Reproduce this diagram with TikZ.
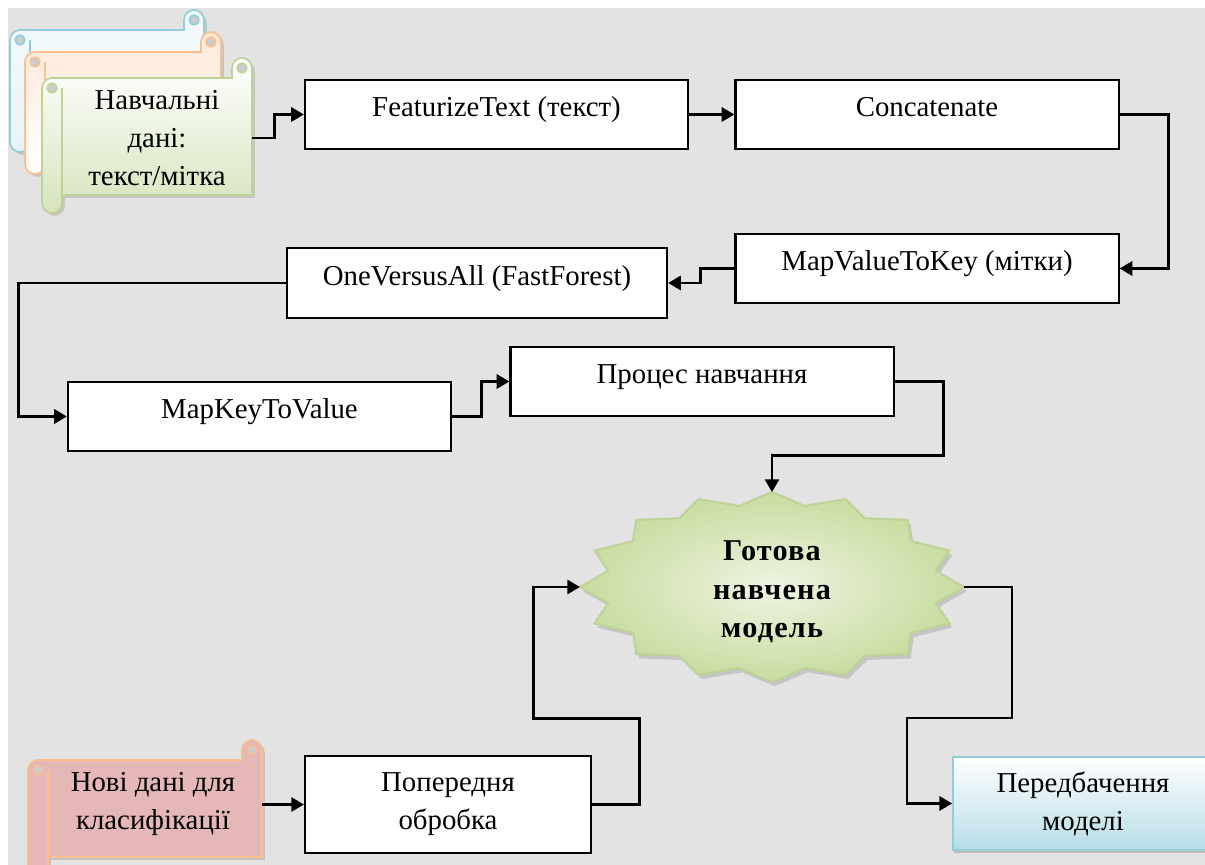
\documentclass[tikz,border=0pt]{standalone}
\usepackage{fontspec}
\setmainfont{Liberation Serif}
\newfontfamily\starfont[LetterSpace=4]{Liberation Serif}
\usetikzlibrary{arrows.meta,shadows}
\definecolor{paper}{RGB}{227,227,227}
\definecolor{scrollblue}{RGB}{146,205,220}
\definecolor{scrollorange}{RGB}{250,190,143}
\definecolor{scrollgreen}{RGB}{190,212,150}
\definecolor{greenfill}{RGB}{214,228,188}
\definecolor{pinkfill}{RGB}{229,183,182}
\definecolor{predfill}{RGB}{183,221,232}
\definecolor{starlight}{RGB}{238,244,226}
\definecolor{stardark}{RGB}{200,220,160}
\newcommand{\scrollshape}[6]{%
  \draw[draw=#5,line width=1.2pt,drop shadow={shadow xshift=2pt,shadow yshift=-2pt,opacity=.3},#6]
    ({#1+10},{#2+20}) -- ({#3-20},{#2+20}) -- ({#3-20},{#2+10}) arc[start angle=180,end angle=0,radius=0.25cm]
    -- (#3,{#4-18}) -- ({#1+20},{#4-18}) -- ({#1+20},{#4-10}) arc[start angle=0,end angle=-180,radius=0.25cm]
    -- (#1,{#2+30}) arc[start angle=180,end angle=90,radius=0.25cm] -- cycle;
  \draw[draw=#5,line width=1.2pt,fill=gray!40] ({#3-10},{#2+10}) circle[radius=0.12cm] ({#1+10},{#2+30}) circle[radius=0.12cm];
  \draw[draw=#5,line width=1.2pt] ({#1+20},{#2+30}) -- ({#1+20},{#4-18});
}

\begin{document}
\begin{tikzpicture}[x=0.025cm,y=-0.025cm,font=\fontsize{20.5}{27}\selectfont,
    box/.style={draw,fill=white,line width=1.5pt,minimum width=9.575cm,minimum height=1.725cm,text height=0.7em,text depth=0.4em},
    flow/.style={line width=2pt,-{Triangle[length=9pt,width=10pt]}}]
  \useasboundingbox (0,0) rectangle (1205,865);
  \fill[paper] (8,8) rectangle (1205,865);
  \scrollshape{10}{10}{204}{152}{scrollblue}{top color=scrollblue!10,bottom color=scrollblue!22}
  \scrollshape{25}{32}{221}{174}{scrollorange}{top color=scrollorange!35,bottom color=white}
  \scrollshape{42}{58}{252}{213}{scrollgreen}{top color=white,bottom color=greenfill}
  \scrollshape{28}{740}{262}{875}{scrollorange}{fill=pinkfill}
  \node[align=center,minimum width=4.75cm,minimum height=2.5cm] (traindata) at (157,138) {Навчальні\\дані:\\текст/мітка};
  \node[align=center,minimum width=5.425cm] (newdata) at (153,804.5) {Нові дані для\\класифікації};
  \node[box] (featurize) at (496.5,114.5) {FeaturizeText (текст)};
  \node[box] (concat) at (927,114.5) {Concatenate};
  \node[box] (mapvalue) at (927,268.5) {MapValueToKey (мітки)};
  \node[box,minimum width=9.5cm,minimum height=1.75cm] (ova) at (477,283) {OneVersusAll (FastForest)};
  \node[box] (mapkey) at (259.5,416.5) {MapKeyToValue};
  \node[box] (train) at (702,381.5) {Процес навчання};
  \node[box,align=center,minimum width=7.15cm,minimum height=2.425cm,text height=,text depth=] (prep) at (448,804.5) {Попередня\\обробка};
  \node[draw=scrollblue,line width=1.2pt,top color=white,bottom color=predfill,align=center,
    minimum width=6.5cm,minimum height=2.325cm,drop shadow={shadow xshift=1pt,shadow yshift=-2pt,opacity=.4}] (predict) at (1083,803.5) {Передбачення\\моделі};
  \draw[line width=1.5pt,draw=scrollgreen,inner color=starlight,outer color=stardark,
    drop shadow={shadow xshift=2pt,shadow yshift=-3pt,opacity=.3}] (964,587)
    \foreach[evaluate={1-0.13*mod(\i,2)} as \r] \i in {1,...,31} { -- ({772+\r*192*cos(\i*11.25)},{587-\r*95*sin(\i*11.25)}) } -- cycle;
  \node[align=center,font=\starfont\bfseries\fontsize{21.5}{27.5}\selectfont] (model) at (772,592) {Готова\\навчена\\модель};
  \coordinate (startop) at (772,492);
  \coordinate (starleft) at (580,587);
  \coordinate (starright) at (964,587);
  \draw[flow] (traindata.east) -- ++(22,0) |- (featurize.west);
  \draw[flow] (featurize.east) -- (concat.west);
  \draw[flow] (concat.east) -- ++(49,0) |- (mapvalue.east);
  \draw[flow] (mapvalue.west) -- ++(-34,0) |- (ova.east);
  \draw[flow] (ova.west) -- ++(-267,0) |- (mapkey.west);
  \draw[flow] (mapkey.east) -- ++(29,0) |- (train.west);
  \draw[flow] (train.east) -- ++(49,0) -- ++(0,74) -| (startop);
  \draw[flow] (newdata.east) -- (prep.west);
  \draw[flow] (prep.east) -- ++(47,0) -- ++(0,-86) -- ++(-106,0) |- (starleft);
  \draw[flow] (starright) -- ++(48,0) -- ++(0,131) -- ++(-105,0) |- (predict.west);
\end{tikzpicture}
\end{document}
